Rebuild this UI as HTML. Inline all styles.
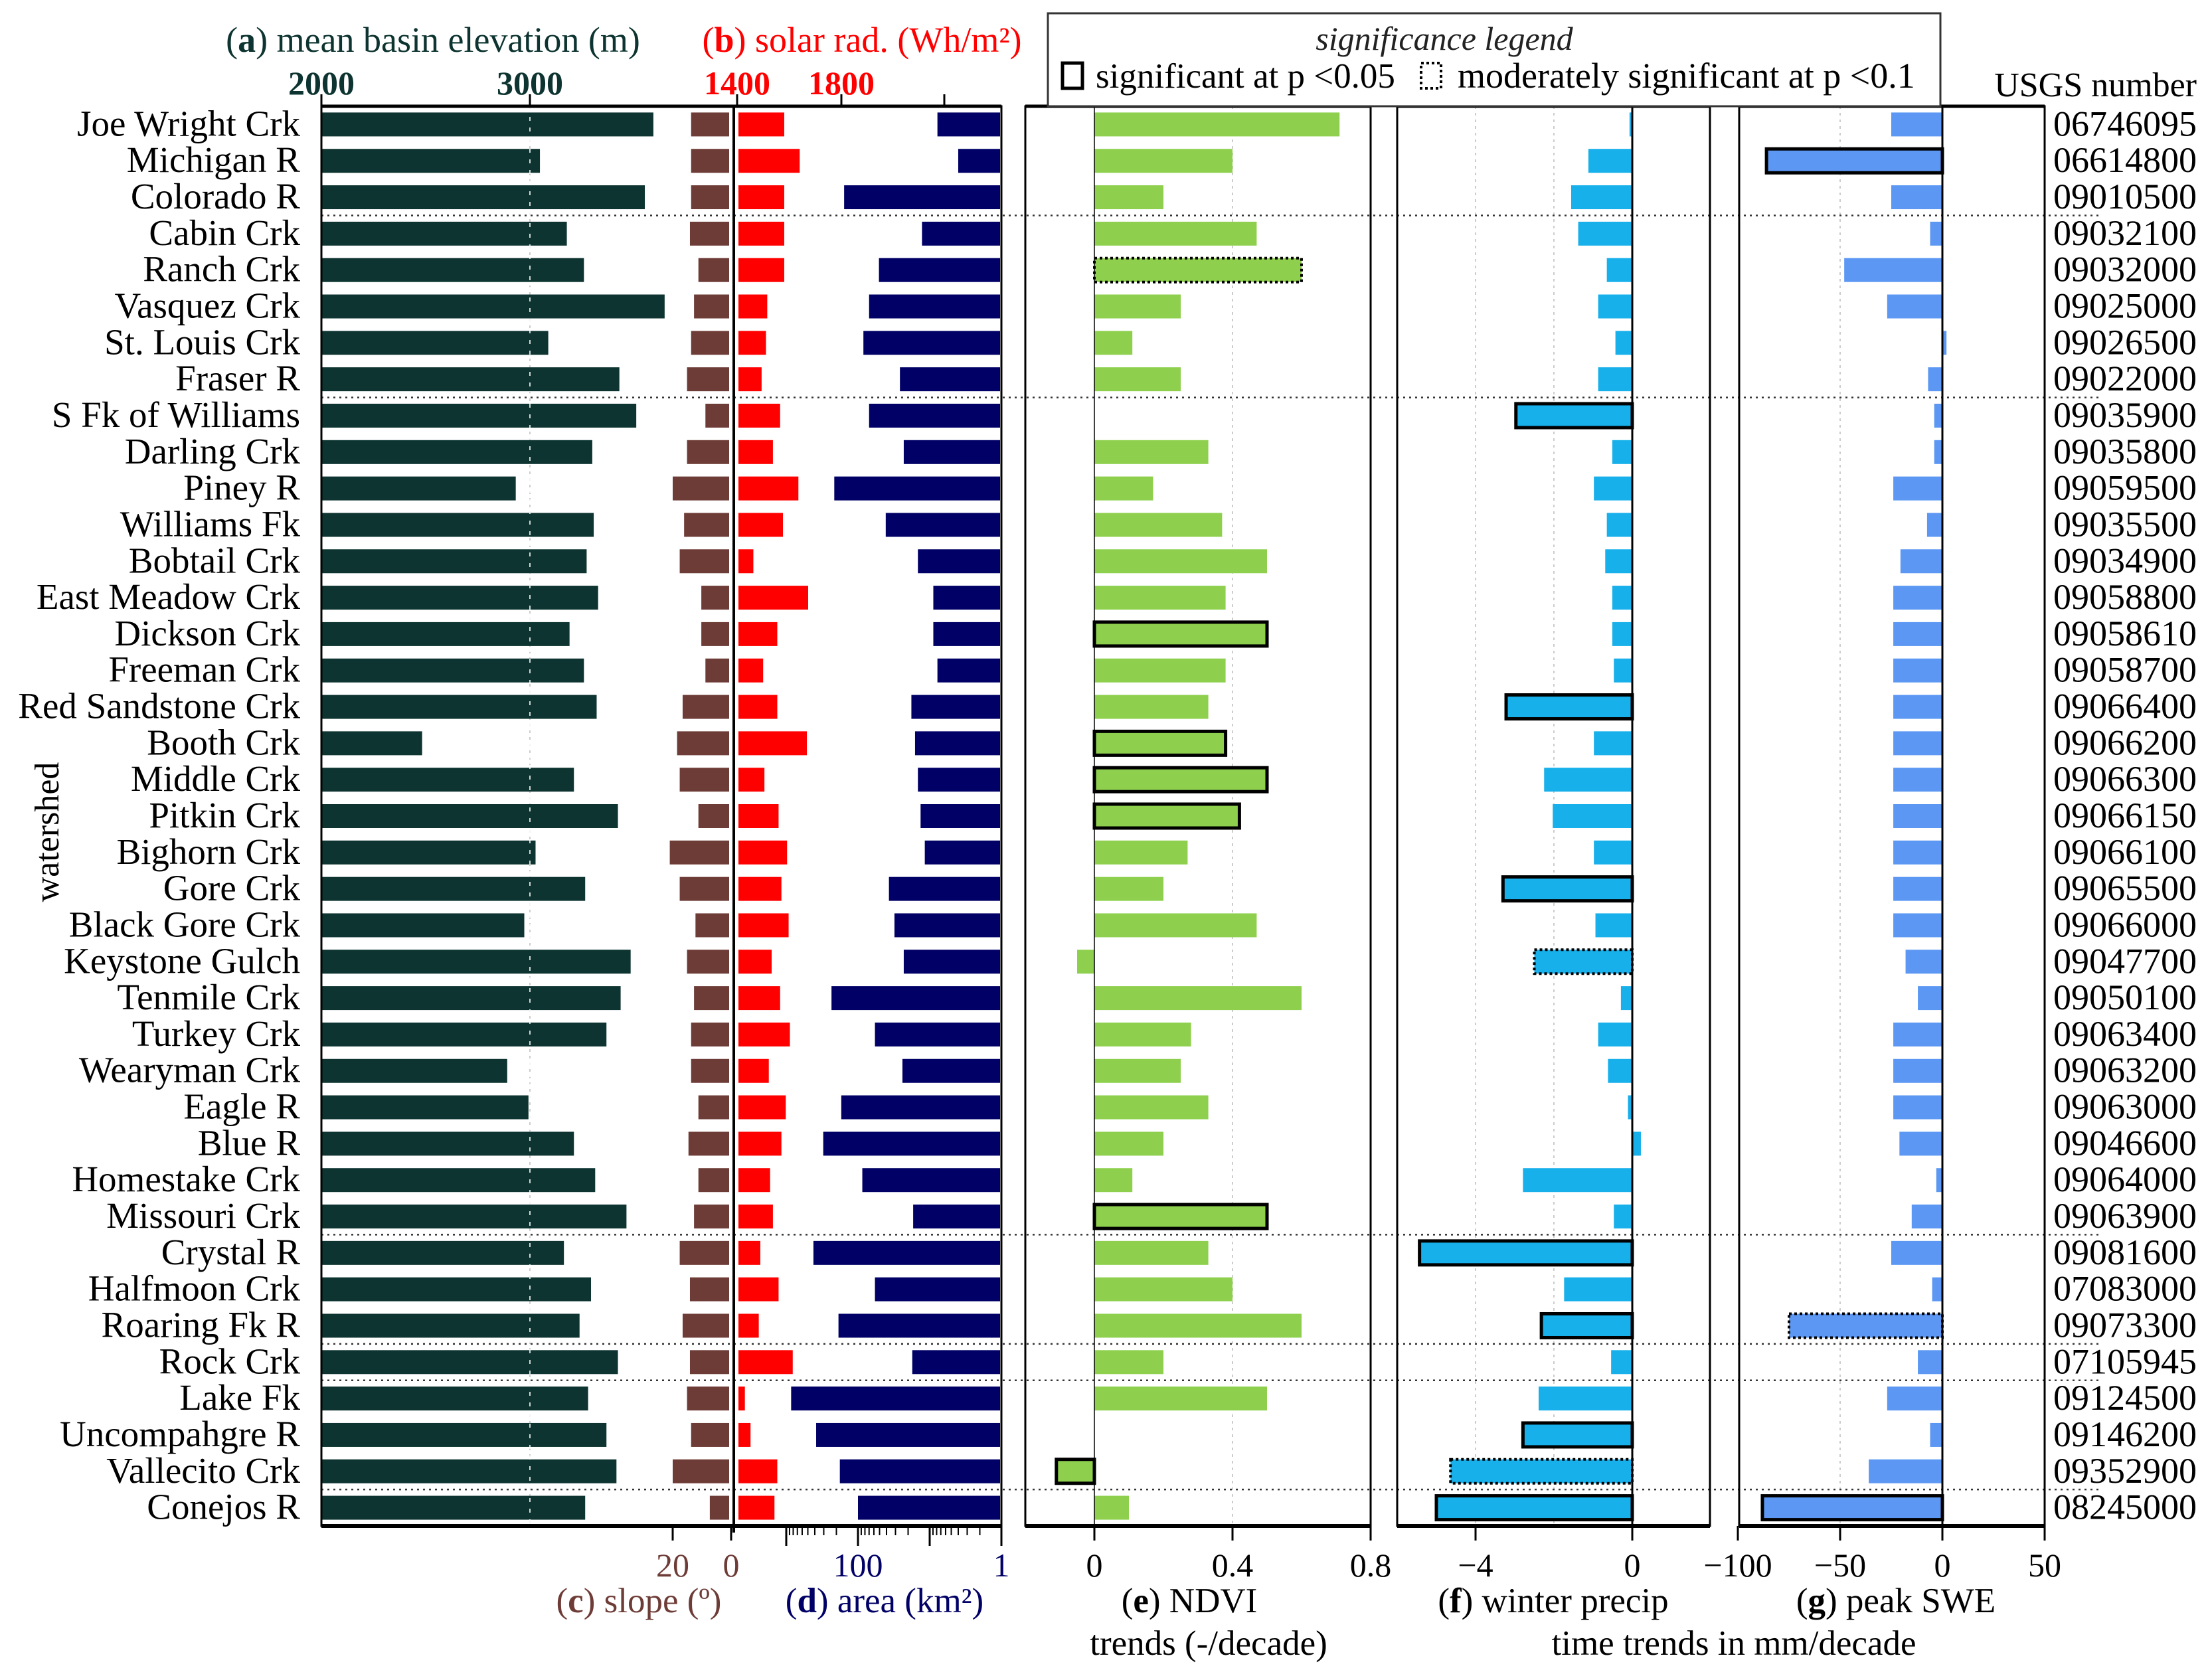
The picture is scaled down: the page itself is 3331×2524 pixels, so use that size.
<!DOCTYPE html>
<html><head><meta charset="utf-8"><style>
body{margin:0;background:#fff}
svg{display:block}
text{font-family:"Liberation Serif",serif}
</style></head><body>
<svg id="chart" width="3331" height="2524" viewBox="0 0 3331 2524" xmlns="http://www.w3.org/2000/svg"></svg>
<script>
const names=["Joe Wright Crk","Michigan R","Colorado R","Cabin Crk","Ranch Crk","Vasquez Crk","St. Louis Crk","Fraser R","S Fk of Williams","Darling Crk","Piney R","Williams Fk","Bobtail Crk","East Meadow Crk","Dickson Crk","Freeman Crk","Red Sandstone Crk","Booth Crk","Middle Crk","Pitkin Crk","Bighorn Crk","Gore Crk","Black Gore Crk","Keystone Gulch","Tenmile Crk","Turkey Crk","Wearyman Crk","Eagle R","Blue R","Homestake Crk","Missouri Crk","Crystal R","Halfmoon Crk","Roaring Fk R","Rock Crk","Lake Fk","Uncompahgre R","Vallecito Crk","Conejos R"];
const usgs=["06746095","06614800","09010500","09032100","09032000","09025000","09026500","09022000","09035900","09035800","09059500","09035500","09034900","09058800","09058610","09058700","09066400","09066200","09066300","09066150","09066100","09065500","09066000","09047700","09050100","09063400","09063200","09063000","09046600","09064000","09063900","09081600","07083000","09073300","07105945","09124500","09146200","09352900","08245000"];
const elevation=[3592,3048,3551,3177,3259,3646,3088,3429,3510,3299,2932,3306,3272,3327,3190,3259,3320,2483,3211,3422,3027,3265,2973,3483,3435,3367,2891,2993,3211,3313,3463,3163,3293,3238,3422,3279,3367,3415,3265];
const slope=[13.7,13.7,13.7,14.1,11.2,12.7,13.7,15.1,8.8,15.1,20,16.1,17.6,10.2,10.2,8.8,16.6,18.5,17.6,11.2,21,17.6,12.2,15.1,12.7,13.7,13.7,11.2,14.6,11.2,12.7,17.6,14.1,16.6,14.1,15.1,13.7,20,7.3];
const solar=[1578,1638,1578,1578,1578,1512,1507,1490,1562,1534,1633,1573,1458,1671,1551,1496,1551,1666,1501,1556,1589,1567,1595,1529,1562,1600,1518,1584,1567,1523,1534,1485,1556,1479,1611,1425,1447,1551,1540];
const area=[7.8,4.0,156,12.8,51,70,84,26,70,23,214,41,14.6,8.9,8.9,7.8,18,16,14.6,13.4,11.7,37,31,23,234,58,24,171,305,87,17,418,58,187,17.5,855,383,179,100];
const ndvi=[0.71,0.40,0.20,0.47,0.60,0.25,0.11,0.25,null,0.33,0.17,0.37,0.50,0.38,0.50,0.38,0.33,0.38,0.50,0.42,0.27,0.20,0.47,-0.05,0.60,0.28,0.25,0.33,0.20,0.11,0.50,0.33,0.40,0.60,0.20,0.50,null,-0.11,0.10];
const ndviSig=[0,0,0,0,2,0,0,0,0,0,0,0,0,0,1,0,0,1,1,1,0,0,0,0,0,0,0,0,0,0,1,0,0,0,0,0,0,1,0];
const precip=[-0.07,-1.12,-1.56,-1.38,-0.65,-0.87,-0.43,-0.87,-2.97,-0.51,-0.98,-0.65,-0.69,-0.51,-0.51,-0.47,-3.22,-0.98,-2.25,-2.03,-0.98,-3.30,-0.94,-2.50,-0.29,-0.87,-0.62,-0.11,0.22,-2.79,-0.47,-5.43,-1.74,-2.32,-0.54,-2.39,-2.79,-4.64,-5.00];
const precipSig=[0,0,0,0,0,0,0,0,1,0,0,0,0,0,0,0,1,0,0,0,0,1,0,2,0,0,0,0,0,0,0,1,0,1,0,0,1,2,1];
const swe=[-25,-86,-25,-6,-48,-27,2,-7,-4,-4,-24,-7.5,-20.5,-24,-24,-24,-24,-24,-24,-24,-24,-24,-24,-18,-12,-24,-24,-24,-21,-3,-15,-25,-5,-75,-12,-27,-6,-36,-88];
const sweSig=[0,1,0,0,0,0,0,0,0,0,0,0,0,0,0,0,0,0,0,0,0,0,0,0,0,0,0,0,0,0,0,0,0,2,0,0,0,0,1];
const groupBreaks=[2,7,30,33,34,37];

const svg=document.getElementById('chart');
const NS='http://www.w3.org/2000/svg';
function mk(tag,attrs,parent){const e=document.createElementNS(NS,tag);for(const k in attrs)e.setAttribute(k,attrs[k]);(parent||svg).appendChild(e);return e;}
function txt(s,x,y,size,fill,anchor,extra){const t=mk('text',Object.assign({x:x,y:y,'font-size':size,fill:fill,'text-anchor':anchor||'middle'},extra||{}));t.textContent=s;return t;}

const TOP=160,BOT=2298,N=names.length,PITCH=(BOT-TOP)/N,BH=36;
const yc=i=>TOP+PITCH*(i+0.5);
const xElev=v=>484+(v-2000)*0.314;
const xSlope=v=>1101-v*4.4;
const xSolar=v=>1112+(v-1400)*0.3875;
const xArea=v=>1508-Math.log10(v)*108;
const xNdvi=v=>1648+v*520;
const xPrec=v=>2458+v*59;
const xSwe=v=>2925+v*3.08;

const gl=(x)=>{const l=mk('line',{x1:x,x2:x,y1:TOP,y2:BOT,stroke:'#ccc','stroke-width':2,'stroke-dasharray':'4 6'});};
gl(xNdvi(0.4));gl(xPrec(-4));gl(xPrec(-2));gl(xSwe(-50));gl(xElev(3000));

function bar(x1,x2,i,fill,sig,name){
  const r=mk('rect',{x:Math.min(x1,x2),y:yc(i)-BH/2,width:Math.max(1,Math.abs(x2-x1)),height:BH,fill:fill});
  
  
  if(sig===1){r.setAttribute('stroke','#000');r.setAttribute('stroke-width',5);}
  if(sig===2){r.setAttribute('stroke','#000');r.setAttribute('stroke-width',4);r.setAttribute('stroke-dasharray','4 4');}
}
for(let i=0;i<N;i++){
  bar(xElev(2000),xElev(elevation[i]),i,'#0d3430',0,'elevation-bar');
  bar(xSlope(slope[i]),xSlope(0)-3,i,'#6e3c37',0,'slope-bar');
  bar(xSolar(1400),xSolar(solar[i]),i,'#ff0000',0,'solar-bar');
  bar(xArea(area[i]),1506,i,'#000066',0,'area-bar');
  if(ndvi[i]!==null)bar(xNdvi(0),xNdvi(ndvi[i]),i,'#8ed04e',ndviSig[i],'ndvi-bar');
  bar(xPrec(0),xPrec(precip[i]),i,'#17b0ea',precipSig[i],'precip-bar');
  bar(xSwe(0),xSwe(swe[i]),i,'#5c98f3',sweSig[i],'swe-bar');
  const l=txt(names[i],452,yc(i)+17,55,'#000','end');
  
  
  const u=txt(usgs[i],3308,yc(i)+17,54,'#000','end');
  
  
}
mk('line',{x1:xElev(3000),x2:xElev(3000),y1:TOP,y2:BOT,stroke:'#fff','stroke-width':2,'stroke-dasharray':'6 10',opacity:0.8});
groupBreaks.forEach(b=>{const y=TOP+PITCH*(b+1);const l=mk('line',{x1:484,x2:3165,y1:y,y2:y,stroke:'#333','stroke-width':2.5,'stroke-dasharray':'3 6'});});
mk('line',{x1:1105,x2:1105,y1:TOP,y2:BOT+10,stroke:'#000','stroke-width':4});
mk('line',{x1:xNdvi(0),x2:xNdvi(0),y1:TOP,y2:BOT,stroke:'#000','stroke-width':1.5});
mk('line',{x1:xPrec(0),x2:xPrec(0),y1:TOP,y2:BOT,stroke:'#000','stroke-width':3});
mk('line',{x1:xSwe(0),x2:xSwe(0),y1:TOP,y2:BOT,stroke:'#000','stroke-width':3});
[[484,1508,'panel-a-d-frame'],[1544,2064,'panel-e-frame'],[2104,2575,'panel-f-frame'],[2619,3079,'panel-g-frame']].forEach(p=>{
  const r=mk('rect',{x:p[0],y:TOP,width:p[1]-p[0],height:BOT-TOP,fill:'none',stroke:'#000','stroke-width':3});
  
  mk('line',{x1:p[0],x2:p[1],y1:TOP,y2:TOP,stroke:'#000','stroke-width':5});
  mk('line',{x1:p[0],x2:p[1],y1:BOT,y2:BOT,stroke:'#000','stroke-width':6});
});
const lg=mk('rect',{x:1578,y:20,width:1344,height:140,fill:'#fff',stroke:'#333','stroke-width':3});

txt('significance legend',2175,75,50,'#222','middle',{'font-style':'italic'});
mk('rect',{x:1600,y:95,width:30,height:38,fill:'none',stroke:'#000','stroke-width':5});
txt('significant at p <0.05',1650,132,53,'#000','start');
mk('rect',{x:2140,y:95,width:30,height:38,fill:'none',stroke:'#000','stroke-width':4,'stroke-dasharray':'4 4'});
txt('moderately significant at p <0.1',2195,132,54,'#000','start');
txt('USGS number',3308,145,52,'#000','end');
const topTicks=[[xElev(2000),'2000','#0d3430'],[xElev(3000),'3000','#0d3430'],[xSolar(1400)-2,'1400','#ff0000'],[xSolar(1800),'1800','#ff0000'],[xSolar(2200),'','#000']];
topTicks.forEach(t=>{mk('line',{x1:t[0],x2:t[0],y1:TOP-18,y2:TOP,stroke:'#000','stroke-width':3});if(t[1]){const e=txt(t[1],t[0],142,50,t[2],'middle',{'font-weight':'bold'});}});
const ta=txt('',652,78,54,'#0d3430');ta.innerHTML='(<tspan font-weight="bold">a</tspan>) mean basin elevation (m)';
const tb=txt('',1298,78,54,'#ff0000');tb.innerHTML='(<tspan font-weight="bold">b</tspan>) solar rad. (Wh/m²)';
function bt(x,label,col,len){mk('line',{x1:x,x2:x,y1:BOT,y2:BOT+(len||22),stroke:'#000','stroke-width':3});if(label!==''){const e=txt(label,x,2374,50,col);}}
bt(xSlope(20),'20','#6e3c37');bt(xSlope(0),'0','#6e3c37');
[1000,100,10,1].forEach(d=>{bt(xArea(d),d===100?'100':d===1?'1':'','#000066',30);if(d>1)for(let m=2;m<10;m++){const x=xArea(d/10*m);mk('line',{x1:x,x2:x,y1:BOT,y2:BOT+14,stroke:'#000','stroke-width':2});}});
bt(xNdvi(0),'0','#000');bt(xNdvi(0.4),'0.4','#000');bt(xNdvi(0.8),'0.8','#000');
bt(xPrec(-4),'−4','#000');bt(xPrec(0),'0','#000');
bt(xSwe(-100),'−100','#000');bt(xSwe(-50),'−50','#000');bt(xSwe(0),'0','#000');bt(xSwe(50),'50','#000');
function lbl(s,x,y,col,name,bold){const e=txt('',x,y,53,col);e.innerHTML='(<tspan font-weight="bold">'+bold+'</tspan>) '+s;}
lbl('slope (º)',962,2428,'#6e3c37','slope-title','c');
lbl('area (km²)',1332,2428,'#000066','area-title','d');
lbl('NDVI',1791,2428,'#000','ndvi-title','e');
lbl('winter precip',2339,2428,'#000','precip-title','f');
lbl('peak SWE',2855,2428,'#000','swe-title','g');
txt('trends (-/decade)',1820,2492,53,'#000');
txt('time trends in mm/decade',2611,2492,53,'#000');
const ws=txt('watershed',0,0,52,'#000','middle',{transform:'translate(88,1253) rotate(-90)'});

</script>
</body></html>
